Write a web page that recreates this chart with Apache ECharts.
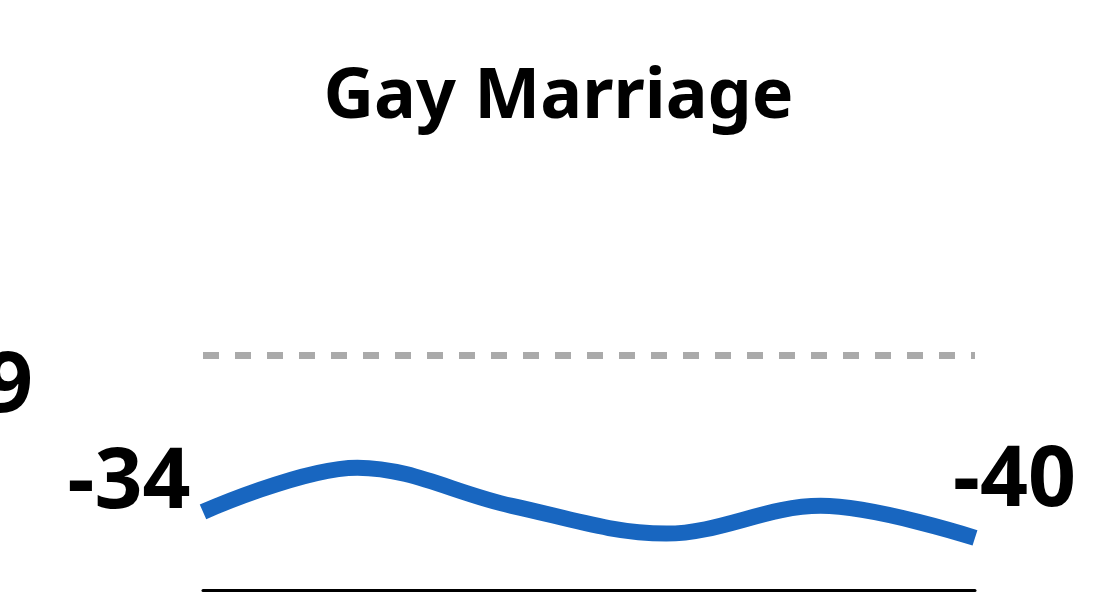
<!DOCTYPE html>
<html lang="en">
<head>
    <meta charset="utf-8">
    <title>Gay Marriage</title>
    <script src="https://cdn.jsdelivr.net/npm/echarts@6/dist/echarts.min.js"></script>
    <style>
        html, body { margin: 0; padding: 0; background: #fff; }
        #main { width: 1117px; height: 606px; }
    </style>
</head>
<body>
    <div id="main"></div>
    <script type="text/javascript">
        // data
        var categories = ['1', '2', '3', '4', '5', '6'];
        var values = [-34, -23.8, -32.6, -39, -32.6, -40];
        var refValue = 2;
        var refLabel = '-29';

        var font = '"Noto Sans", sans-serif';
        var bigLabel = { fontFamily: font, fontWeight: 'bold', fontSize: 84, color: '#000' };

        var myChart = echarts.init(document.getElementById('main'));
        myChart.setOption({
            animation: false,
            title: {
                text: 'Gay Marriage',
                left: 'center',
                top: 58,
                textStyle: { fontFamily: font, fontWeight: 'bold', fontSize: 70, color: '#000' }
            },
            grid: { left: 203, right: 142, top: 321, bottom: 16 },
            xAxis: {
                type: 'category',
                data: categories,
                boundaryGap: false,
                axisLine: { onZero: false, lineStyle: { color: '#000', width: 3 } },
                axisTick: { show: false },
                axisLabel: { show: false },
                splitLine: { show: false }
            },
            yAxis: {
                type: 'value',
                min: -52,
                max: 10,
                show: false,
                splitLine: { show: false }
            },
            series: [{
                type: 'line',
                data: values,
                smooth: 0.35,
                symbol: 'none',
                lineStyle: { color: '#1866c0', width: 16 },
                label: {
                    show: true,
                    position: 'inside',
                    fontSize: 3,
                    color: '#333',
                    formatter: function (p) { return p.value + '%'; }
                },
                endLabel: Object.assign({
                    show: true,
                    distance: 0,
                    offset: [-22, -56],
                    formatter: function (p) { return Math.round(p.value); }
                }, bigLabel),
                markPoint: {
                    symbol: 'circle',
                    symbolSize: 1,
                    itemStyle: { color: 'rgba(0,0,0,0)' },
                    data: [{ coord: [0, values[0]], value: values[0] }],
                    label: Object.assign({
                        show: true,
                        position: 'left',
                        distance: 12,
                        offset: [0, -28],
                        formatter: function (p) { return Math.round(p.value); }
                    }, bigLabel)
                },
                markLine: {
                    symbol: 'none',
                    silent: true,
                    data: [{ yAxis: refValue }],
                    lineStyle: { color: '#aaaaaa', width: 7, type: [16, 16] },
                    label: Object.assign({
                        show: true,
                        position: 'start',
                        distance: 170,
                        offset: [0, 32],
                        formatter: function () { return refLabel; }
                    }, bigLabel)
                }
            }]
        });
    </script>
</body>
</html>
